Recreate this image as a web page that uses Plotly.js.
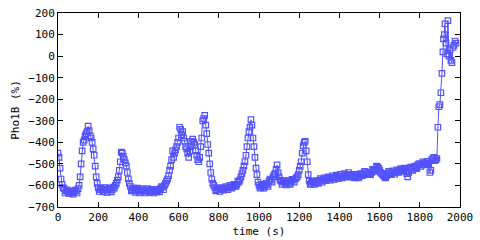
<!DOCTYPE html>
<html>
<head>
<meta charset="utf-8">
<script src="https://cdn.plot.ly/plotly-3.0.1.min.js"></script>
<style>html,body{margin:0;padding:0;background:#fff}#chart{width:480px;height:240px}</style>
</head>
<body>
<div id="chart"></div>
<script>
const timeS = [0,10,20,30,40,50,60,70,80,90,100,110,120,130,140,150,160,170,180,190,
200,210,220,230,240,250,260,270,280,290,300,310,320,330,340,350,360,370,380,390,
400,410,420,430,440,450,460,470,480,490,500,510,520,530,540,550,560,570,580,590,
600,610,620,630,640,650,660,670,680,690,700,710,720,730,740,750,760,770,780,790,
800,810,820,830,840,850,860,870,880,890,900,910,920,930,940,950,960,970,980,990,
1000,1010,1020,1030,1040,1050,1060,1070,1080,1090,1100,1110,1120,1130,1140,1150,1160,1170,1180,1190,
1200,1210,1220,1230,1240,1250,1260,1270,1280,1290,1300,1310,1320,1330,1340,1350,1360,1370,1380,1390,
1400,1410,1420,1430,1440,1450,1460,1470,1480,1490,1500,1510,1520,1530,1540,1550,1560,1570,1580,1590,
1600,1610,1620,1630,1640,1650,1660,1670,1680,1690,1700,1710,1720,1730,1740,1750,1760,1770,1780,1790,
1800,1810,1820,1830,1840,1850,1860,1870,1880,1885,1890,1895,1900,1905,1910,1915,1918,1922,1925,1930,
1935,1940,1945,1950,1955,1960,1965,1970,1975,1980];
const pho1B = [-450,-520,-595,-615,-625,-630,-628,-632,-630,-625,-615,-560,-440,-390,-360,-325,-370,-400,-460,-560,
-610,-620,-618,-622,-620,-618,-622,-620,-612,-590,-560,-490,-450,-480,-510,-570,-605,-620,-622,-618,
-625,-622,-628,-625,-620,-625,-628,-622,-625,-630,-618,-615,-608,-600,-580,-555,-510,-440,-450,-420,
-380,-340,-350,-395,-430,-470,-420,-385,-410,-460,-490,-420,-300,-275,-360,-450,-540,-590,-610,-620,
-620,-618,-615,-612,-612,-610,-608,-605,-600,-595,-585,-560,-530,-490,-420,-350,-295,-380,-470,-550,
-600,-608,-605,-600,-598,-580,-575,-560,-545,-505,-560,-580,-585,-590,-585,-590,-580,-575,-570,-560,
-530,-490,-415,-395,-490,-580,-590,-585,-588,-585,-578,-575,-572,-570,-565,-568,-562,-565,-560,-558,
-562,-555,-558,-552,-550,-555,-558,-552,-560,-555,-558,-550,-545,-540,-548,-545,-540,-530,-525,-515,
-530,-545,-555,-565,-545,-540,-545,-538,-540,-535,-530,-528,-525,-530,-560,-520,-525,-515,-518,-505,
-500,-505,-495,-500,-495,-540,-480,-470,-480,-475,-330,-235,-225,-170,-80,20,80,100,150,60,
10,165,0,30,-20,-30,40,50,70,60];

const timeMid = [5,15,25,35,45,55,65,75,85,95,105,115,125,135,145,155,165,175,185,195,
205,215,225,235,245,255,265,275,285,295,305,315,325,335,345,355,365,375,385,395,
405,415,425,435,445,455,465,475,485,495,505,515,525,535,545,555,565,575,585,595,
605,615,625,635,645,655,665,675,685,695,705,715,725,735,745,755,765,775,785,795,
805,815,825,835,845,855,865,875,885,895,905,915,925,935,945,955,965,975,985,995,
1005,1015,1025,1035,1045,1055,1065,1075,1085,1095,1105,1115,1125,1135,1145,1155,1165,1175,1185,1195,
1205,1215,1225,1235,1245,1255,1265,1275,1285,1295,1305,1315,1325,1335,1345,1355,1365,1375,1385,1395,
1405,1415,1425,1435,1445,1455,1465,1475,1485,1495,1505,1515,1525,1535,1545,1555,1565,1575,1585,1595,
1605,1615,1625,1635,1645,1655,1665,1675,1685,1695,1705,1715,1725,1735,1745,1755,1765,1775,1785,1795,
1805,1815,1825,1835,1845,1855,1865,1875];
const pho1BMid = [-470,-570,-610,-635,-620,-638,-625,-640,-622,-635,-600,-500,-400,-370,-350,-345,-380,-430,-510,-590,
-628,-612,-630,-610,-632,-612,-630,-608,-600,-575,-530,-445,-465,-495,-540,-590,-625,-612,-632,-612,
-635,-615,-620,-635,-615,-632,-618,-635,-620,-625,-630,-605,-620,-590,-570,-530,-480,-470,-435,-400,
-330,-365,-380,-420,-450,-440,-395,-400,-440,-480,-470,-380,-290,-320,-410,-500,-570,-600,-625,-612,
-628,-610,-622,-605,-620,-600,-612,-595,-605,-580,-575,-545,-510,-460,-380,-330,-320,-420,-520,-585,
-612,-595,-612,-590,-605,-570,-585,-550,-525,-540,-575,-595,-578,-598,-578,-595,-572,-585,-565,-550,
-510,-450,-400,-440,-550,-595,-580,-595,-578,-590,-568,-585,-565,-578,-560,-575,-555,-572,-552,-568,
-548,-565,-545,-560,-540,-562,-548,-565,-548,-565,-545,-555,-535,-550,-538,-550,-525,-535,-510,-520,
-540,-550,-560,-555,-535,-550,-532,-548,-528,-540,-522,-535,-520,-545,-540,-515,-530,-510,-522,-500,
-512,-490,-505,-488,-500,-530,-475,-485];

// merge both sample sets in time order
const pts = timeS.map((t, i) => [t, pho1B[i]]).concat(timeMid.map((t, i) => [t, pho1BMid[i]]));
pts.sort((a, b) => a[0] - b[0]);
const xs = pts.map(p => p[0]);
const ys = pts.map(p => p[1]);

const axisFont = {family: 'DejaVu Sans Mono, monospace', size: 11, color: '#000'};
const blue = '#5252ff';

Plotly.newPlot('chart', [{
  x: xs, y: ys, type: 'scatter', mode: 'lines+markers',
  line: {color: blue, width: 1},
  marker: {symbol: 'square-open', size: 5.5, color: blue, line: {width: 1.2, color: blue}},
  showlegend: false
}], {
  width: 480, height: 240,
  margin: {l: 58, r: 20, t: 13, b: 33, pad: 0},
  paper_bgcolor: '#fff', plot_bgcolor: '#fff',
  font: axisFont,
  xaxis: {
    range: [0, 2000], tickvals: [0,200,400,600,800,1000,1200,1400,1600,1800,2000],
    ticks: 'inside', ticklen: 5, tickcolor: '#000', showline: true, linecolor: '#000', linewidth: 1,
    mirror: 'ticks', showgrid: false, zeroline: false, tickfont: axisFont,
    title: {text: 'time (s)', font: axisFont, standoff: 4}
  },
  yaxis: {
    range: [-700, 200], tickvals: [-700,-600,-500,-400,-300,-200,-100,0,100,200],
    ticks: 'inside', ticklen: 5, tickcolor: '#000', showline: true, linecolor: '#000', linewidth: 1,
    mirror: 'ticks', showgrid: false, zeroline: false, tickfont: axisFont,
    title: {text: 'Pho1B (%)', font: axisFont, standoff: 6}
  }
}, {staticPlot: true});
</script>
</body>
</html>
